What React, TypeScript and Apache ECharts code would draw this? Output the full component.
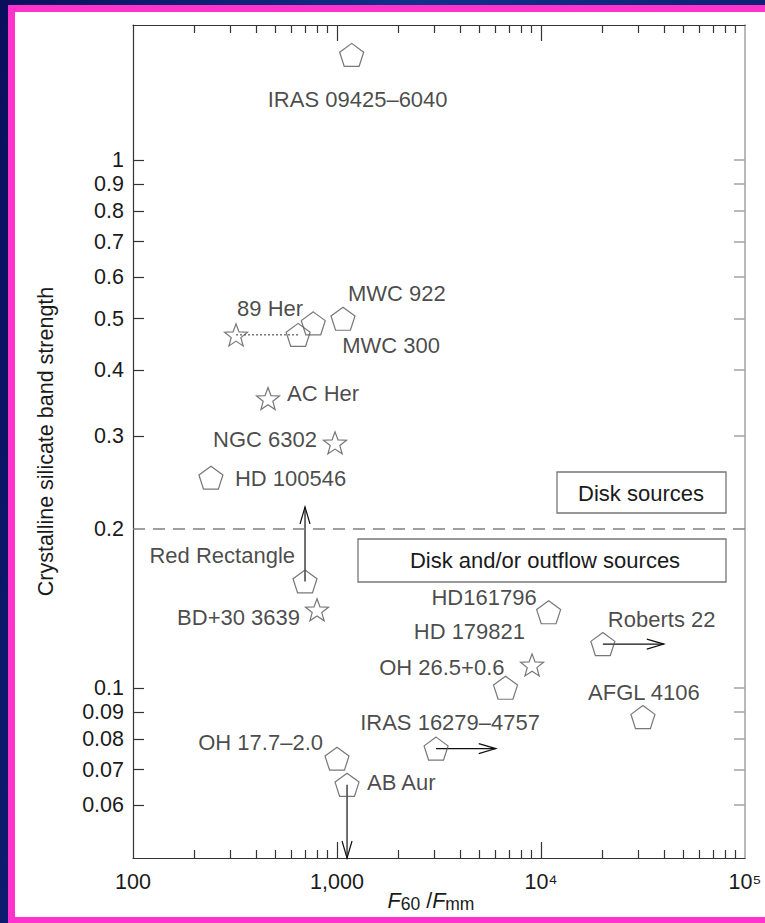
import React, { useEffect, useRef } from 'react';
import * as echarts from 'echarts';

// Sources drawn with pentagon markers
const pentagonNames = ['IRAS 09425–6040', 'MWC 922', 'MWC 300', '89 Her', 'HD 100546', 'Red Rectangle', 'HD161796', 'Roberts 22', 'OH 26.5+0.6', 'AFGL 4106', 'IRAS 16279–4757', 'OH 17.7–2.0', 'AB Aur'];
const pentagonRatio = [1180, 1070, 765, 645, 241, 697, 10900, 20100, 6700, 31600, 3060, 1000, 1120];
const pentagonStrength = [1.58, 0.5, 0.49, 0.466, 0.25, 0.159, 0.139, 0.121, 0.1, 0.088, 0.0767, 0.0734, 0.0655];

// Sources drawn with star markers
const starNames = ['89 Her', 'AC Her', 'NGC 6302', 'BD+30 3639', 'HD 179821'];
const starRatio = [320, 459, 978, 798, 9040];
const starStrength = [0.466, 0.353, 0.291, 0.1405, 0.1105];

// Axis ranges
const ratioRange = [100, 100000];
const strengthRange = [0.0476, 1.8];

// Limits: an arrow runs from the source to the bound
const limitSources = ['Red Rectangle', 'AB Aur', 'Roberts 22', 'IRAS 16279–4757'];
const limitRatio = [697, 1120, 40000, 6000];
const limitStrength = [0.22, 0.0476, 0.121, 0.0767];

// Two estimates of 89 Her joined by a dotted line
const linkedSource = '89 Her';

const diskBoundary = 0.2;

const xLabelValues = [100, 1000, 10000, 100000];
const xMajorTicks = [1000, 10000];
const xMinorTicks = [200, 300, 400, 500, 600, 700, 800, 900, 2000, 3000, 4000, 5000, 6000, 7000, 8000, 9000, 20000, 30000, 40000, 50000, 60000, 70000, 80000, 90000];
const yLabelValues = [0.06, 0.07, 0.08, 0.09, 0.1, 0.2, 0.3, 0.4, 0.5, 0.6, 0.7, 0.8, 0.9, 1];
const yTickValues = [0.06, 0.07, 0.08, 0.09, 0.1, 0.3, 0.4, 0.5, 0.6, 0.7, 0.8, 0.9, 1];

const FONT = '"Liberation Sans", Arial, Helvetica, sans-serif';
const INK = '#1a1a1a';
const AXIS = '#333';
const RIGHT_AXIS = '#a8a8a8';
const MARKER = '#555';

const PENTAGON = 'path://M0,-1 L0.951,-0.309 L0.588,0.809 L-0.588,0.809 L-0.951,-0.309 Z';
const STAR = 'path://M0,-1 L0.2469,-0.3398 L0.9511,-0.309 L0.3995,0.1298 L0.5878,0.809 L0,0.42 L-0.5878,0.809 L-0.3995,0.1298 L-0.9511,-0.309 L-0.2469,-0.3398 Z';

// label anchor: [align, dx, dy] relative to the marker centre
const pentagonLabels: Record<string, [string, number, number]> = {
  'IRAS 09425–6040': ['center', 6, 45],
  'MWC 922': ['left', 5, -25],
  'MWC 300': ['left', 29, 22],
  'HD 100546': ['left', 24, 1],
  'Red Rectangle': ['right', -10, -26],
  'HD161796': ['right', -12, -15],
  'Roberts 22': ['left', 5, -25],
  'OH 26.5+0.6': ['right', -1, -20],
  'AFGL 4106': ['center', 1, -25],
  'IRAS 16279–4757': ['center', 14, -26],
  'OH 17.7–2.0': ['right', -14, -16],
  'AB Aur': ['left', 20, -2],
};
const starLabels: Record<string, [string, number, number]> = {
  '89 Her': ['left', 1, -26],
  'AC Her': ['left', 19, -5],
  'NGC 6302': ['right', -18, -3],
  'BD+30 3639': ['right', -17, 8],
  'HD 179821': ['right', -7, -33],
};

function buildPoints(names: string[], xs: number[], ys: number[], labels: Record<string, [string, number, number]>) {
  return names.map((name, i) => {
    const place = labels[name];
    return {
      name,
      value: [xs[i], ys[i]],
      label: place
        ? {
            show: true,
            formatter: name,
            position: 'inside',
            align: place[0],
            verticalAlign: 'middle',
            offset: [place[1], place[2]],
            fontSize: 22,
            fontFamily: FONT,
            color: INK,
            textBorderWidth: 0,
          }
        : { show: false },
    };
  });
}

function pentagonValue(name: string): [number, number] {
  const i = pentagonNames.indexOf(name);
  return [pentagonRatio[i], pentagonStrength[i]];
}

function starValue(name: string): [number, number] {
  const i = starNames.indexOf(name);
  return [starRatio[i], starStrength[i]];
}

const xLabelFormatter = (v: number) => {
  const e = Math.round(Math.log10(v));
  if (e === 2) return '100';
  if (e === 3) return '1,000';
  return e === 4 ? '10⁴' : '10⁵';
};

const yLabelFormatter = (v: number) => String(Number(v.toFixed(2)));

function buildOption() {
  const tickStyle = { color: AXIS, width: 1.2 };
  const baseX = {
    type: 'log',
    logBase: 10,
    min: ratioRange[0],
    max: ratioRange[1],
    splitLine: { show: false },
    minorTick: { show: false },
  };
  const baseY = {
    type: 'log',
    logBase: 10,
    min: strengthRange[0],
    max: strengthRange[1],
    splitLine: { show: false },
    minorTick: { show: false },
  };

  const arrowData = limitSources.map((name, i) => {
    const start = pentagonValue(name);
    return [start[0], start[1], limitRatio[i], limitStrength[i]];
  });

  return {
    animation: false,
    textStyle: { fontFamily: FONT },
    grid: { left: 133, right: 20, top: 25, bottom: 65, outerBoundsMode: 'none', containLabel: false },
    xAxis: [
      {
        ...baseX,
        position: 'bottom',
        axisLine: { show: true, lineStyle: tickStyle },
        axisTick: { show: true, inside: true, length: 8, lineStyle: tickStyle, customValues: xMinorTicks },
        axisLabel: {
          show: true,
          customValues: xLabelValues,
          formatter: xLabelFormatter,
          fontSize: 21.5,
          color: INK,
          margin: 13,
          hideOverlap: false,
        },
        name: '{i|F}{sub|60} /{i|F}{sub|mm}',
        nameLocation: 'middle',
        nameGap: 31,
        nameMoveOverlap: false,
        nameTextStyle: {
          fontSize: 21.5,
          color: INK,
          lineHeight: 24,
          padding: [0, 16, 0, 0],
          rich: {
            i: { fontStyle: 'italic', fontSize: 21.5, lineHeight: 24, color: INK },
            sub: { fontSize: 17.5, lineHeight: 16, verticalAlign: 'bottom', color: INK },
          },
        },
      },
      {
        ...baseX,
        position: 'bottom',
        axisLine: { show: false },
        axisTick: { show: true, inside: true, length: 16, lineStyle: tickStyle, customValues: xMajorTicks },
        axisLabel: { show: false },
      },
      {
        ...baseX,
        position: 'top',
        axisLine: { show: true, lineStyle: tickStyle },
        axisTick: { show: true, inside: true, length: 8, lineStyle: tickStyle, customValues: xMinorTicks },
        axisLabel: { show: false },
      },
      {
        ...baseX,
        position: 'top',
        axisLine: { show: false },
        axisTick: { show: true, inside: true, length: 16, lineStyle: tickStyle, customValues: xMajorTicks },
        axisLabel: { show: false },
      },
    ],
    yAxis: [
      {
        ...baseY,
        position: 'left',
        axisLine: { show: true, lineStyle: tickStyle },
        axisTick: { show: true, inside: true, length: 11, lineStyle: tickStyle, customValues: yTickValues },
        axisLabel: {
          show: true,
          customValues: yLabelValues,
          formatter: yLabelFormatter,
          fontSize: 21.5,
          color: INK,
          margin: 9,
          hideOverlap: false,
        },
        name: 'Crystalline silicate band strength',
        nameLocation: 'middle',
        nameGap: 76,
        nameMoveOverlap: false,
        nameTextStyle: { fontSize: 21.5, color: INK },
      },
      {
        ...baseY,
        position: 'right',
        axisLine: { show: true, lineStyle: { color: RIGHT_AXIS, width: 1.6 } },
        axisTick: { show: true, inside: true, length: 11, lineStyle: { color: RIGHT_AXIS, width: 1.6 }, customValues: yTickValues },
        axisLabel: { show: false },
      },
    ],
    series: [
      {
        type: 'line',
        name: 'link',
        xAxisIndex: 0,
        yAxisIndex: 0,
        symbol: 'none',
        silent: true,
        lineStyle: { color: AXIS, width: 1, type: [2, 2] },
        data: [starValue(linkedSource), pentagonValue(linkedSource)],
        z: 2,
      },
      {
        type: 'custom',
        name: 'limits',
        xAxisIndex: 0,
        yAxisIndex: 0,
        silent: true,
        clip: false,
        z: 3,
        data: arrowData,
        renderItem: (_params: any, api: any) => {
          const p0 = api.coord([api.value(0), api.value(1)]);
          const p1 = api.coord([api.value(2), api.value(3)]);
          const ang = Math.atan2(p1[1] - p0[1], p1[0] - p0[0]);
          const c = Math.cos(ang);
          const s = Math.sin(ang);
          const len = 17;
          const half = 5;
          const bx = p1[0] - len * c;
          const by = p1[1] - len * s;
          const style = { stroke: '#111', lineWidth: 1.2, fill: 'none' };
          return {
            type: 'group',
            children: [
              { type: 'line', shape: { x1: p0[0], y1: p0[1], x2: p1[0], y2: p1[1] }, style },
              {
                type: 'polyline',
                shape: { points: [[bx - half * s, by + half * c], [p1[0], p1[1]], [bx + half * s, by - half * c]] },
                style,
              },
            ],
          };
        },
      },
      {
        type: 'scatter',
        name: 'pentagon sources',
        xAxisIndex: 0,
        yAxisIndex: 0,
        symbol: PENTAGON,
        symbolSize: [24, 23],
        itemStyle: { color: 'rgba(0,0,0,0)', borderColor: MARKER, borderWidth: 1.2 },
        data: buildPoints(pentagonNames, pentagonRatio, pentagonStrength, pentagonLabels),
        z: 4,
        markLine: {
          silent: true,
          symbol: ['none', 'none'],
          label: { show: false },
          lineStyle: { type: [12, 8], color: '#808080', width: 1.5 },
          data: [{ yAxis: diskBoundary }],
        },
      },
      {
        type: 'scatter',
        name: 'star sources',
        xAxisIndex: 0,
        yAxisIndex: 0,
        symbol: STAR,
        symbolSize: [23, 22],
        itemStyle: { color: 'rgba(0,0,0,0)', borderColor: MARKER, borderWidth: 1.2 },
        data: buildPoints(starNames, starRatio, starStrength, starLabels),
        z: 4,
      },
    ],
    graphic: [
      {
        type: 'rect',
        shape: { x: 557, y: 472, width: 169, height: 41 },
        style: { fill: 'none', stroke: '#777', lineWidth: 1.3 },
      },
      {
        type: 'text',
        x: 641,
        y: 493,
        style: { text: 'Disk sources', fill: INK, fontSize: 22, fontFamily: FONT, align: 'center', verticalAlign: 'middle' },
      },
      {
        type: 'rect',
        shape: { x: 358, y: 539, width: 368, height: 43 },
        style: { fill: 'none', stroke: '#777', lineWidth: 1.3 },
      },
      {
        type: 'text',
        x: 545,
        y: 560,
        style: { text: 'Disk and/or outflow sources', fill: INK, fontSize: 22, fontFamily: FONT, align: 'center', verticalAlign: 'middle' },
      },
    ],
  };
}

export default function App() {
  const ref = useRef<HTMLDivElement>(null);

  useEffect(() => {
    if (!ref.current) return;
    const chart = echarts.init(ref.current, null, { renderer: 'svg' });
    chart.setOption(buildOption() as any);
    return () => chart.dispose();
  }, []);

  return (
    <div
      style={{
        position: 'absolute',
        left: 0,
        top: 0,
        width: 765,
        height: 923,
        overflow: 'hidden',
        background: 'linear-gradient(100deg, #0a0f5c 0%, #12308a 45%, #0b1a6a 100%)',
      }}
    >
      <div style={{ position: 'absolute', left: 8, top: 5, width: 800, height: 918, background: '#ff33cc' }} />
      <div style={{ position: 'absolute', left: 15, top: 12, width: 800, height: 905, background: '#ffffff' }} />
      <div ref={ref} style={{ position: 'absolute', left: 0, top: 0, width: 765, height: 923 }} />
    </div>
  );
}
